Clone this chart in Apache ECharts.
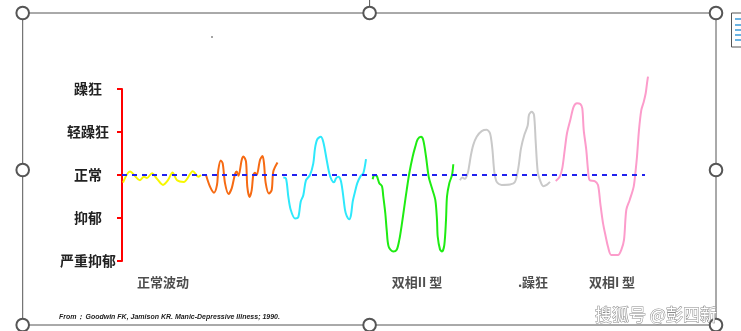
<!DOCTYPE html>
<html>
<head>
<meta charset="utf-8">
<script src="https://cdn.jsdelivr.net/npm/echarts@6/dist/echarts.min.js"></script>
<style>
html,body{margin:0;padding:0;background:#fff;}
#chart{width:741px;height:331px;}
</style>
</head>
<body>
<div id="chart"></div>
<script>
// Mood levels (y-axis tick labels), from -2 to 2
const moodLevels = ['严重抑郁', '抑郁', '正常', '轻躁狂', '躁狂'];
// Group labels under the curves: [time position, text]
const groupLabels = [[163, '正常波动'], [417, '双相II 型'], [533, '.躁狂'], [612, '双相I 型']];
const sourceNote = 'From： Goodwin FK, Jamison KR. Manic-Depressive Illness; 1990.';

// Series values: [time, mood level]
const normalWave = [[123,-0.18],[130,0.08],[140,-0.12],[144,-0.04],[147,-0.07],[152,0.04],[157,-0.09],[163,-0.23],[168,-0.12],[172.5,0.06],[177,-0.12],[184,-0.16],[192.8,0.09],[198.5,-0.04],[201,0]];
const cyclothymia = [[206,0],[210,-0.27],[214,-0.41],[217,-0.23],[218.3,0.12],[220.7,0.34],[222.7,0.27],[225,-0.19],[228.5,-0.44],[231.7,-0.31],[235,0.02],[236.7,0.08],[238.5,-0.02],[241.7,0.35],[243.5,0.43],[246,0.31],[247.3,-0.27],[249.5,-0.51],[251.7,-0.35],[253.3,0],[255,0.05],[256.7,0],[260,0.35],[262.5,0.44],[264,0.27],[265.7,-0.19],[269,-0.43],[271.7,-0.35],[273.3,0.08],[277.5,0.29]];
const bipolarIIa = [[283.3,-0.06],[286,-0.08],[288.3,-0.5],[290.7,-0.81],[295,-1.01],[298.3,-0.98],[300.7,-0.62],[303.3,-0.47],[306,-0.12],[310,0],[313.3,0.27],[315,0.62],[317.3,0.83],[320.7,0.89],[323.3,0.77],[326.7,0.35],[329.3,0.04],[331.7,-0.12],[334,-0.17],[336,-0.08],[338.3,-0.04],[340.7,-0.12],[342.7,-0.39],[345,-0.81],[346.7,-0.95],[349.3,-1.03],[351,-0.93],[352.7,-0.62],[355,-0.39],[357.3,-0.19],[360.7,-0.02],[363.3,0.04],[366,0.37]];
const bipolarIIb = [[372.7,-0.1],[374.3,0],[376.7,-0.02],[379.3,-0.19],[382,-0.26],[383.3,-0.5],[385.3,-0.89],[386.7,-1.28],[388.7,-1.67],[393.3,-1.78],[396.7,-1.74],[399.3,-1.51],[402,-1.12],[404.3,-0.74],[406.7,-0.35],[409.3,0.04],[412.7,0.43],[415.3,0.66],[417.7,0.83],[421,0.89],[423.3,0.81],[426,0.43],[428.7,-0.04],[432,-0.31],[435.3,-0.58],[437,-1.05],[437.7,-1.43],[440,-1.73],[442,-1.78],[444.3,-1.63],[446,-1.05],[447,-0.5],[449.3,-0.19],[452,0],[453.3,0.25]];
const mania = [[460,-0.12],[462.3,-0.06],[465,-0.09],[467.7,0.04],[469,0.19],[471,0.47],[473.3,0.7],[476.7,0.89],[481.7,1.02],[486.7,1.05],[490,0.97],[492.3,0.62],[494.3,0.08],[496.7,-0.16],[501.7,-0.23],[510,-0.22],[515,-0.16],[518.3,0.16],[521,0.62],[524.3,0.93],[527.7,1.15],[529,1.4],[531.7,1.47],[534,1.4],[535.7,0.77],[537.7,0.08],[540,-0.12],[543.3,-0.26],[546.7,-0.23],[550,-0.16]];
const bipolarI = [[555.7,-0.14],[559.7,-0.04],[562.3,0.16],[564.7,0.58],[567,0.97],[570.3,1.28],[573.7,1.59],[577,1.67],[580.3,1.65],[582.3,1.55],[583.7,1.05],[586.3,0.58],[588,0.12],[589.7,-0.12],[594.7,-0.14],[598,-0.23],[600.3,-0.66],[603,-1.12],[605.7,-1.43],[608,-1.67],[611.3,-1.86],[618,-1.86],[621.3,-1.74],[624,-1.51],[626.3,-0.81],[629.7,-0.58],[633.7,-0.27],[635.7,0.12],[637,0.43],[639,1.05],[641.3,1.51],[643.7,1.7],[645.7,1.9],[647,2.13],[648,2.29]];
const baseline = [[122,0],[645,0]];

const chart = echarts.init(document.getElementById('chart'), null, {renderer:'canvas'});

function curve(name, data, color){
  return {name, type:'line', data, smooth:0.3, symbol:'none', clip:false,
    lineStyle:{color, width:2}, z:3, silent:true};
}

const handles = [[22.7,13],[369.6,13],[716,13],[22.7,170],[716,170],[22.7,325],[369.6,325],[716,325]];
const graphics = [
  {type:'rect', shape:{x:22.7,y:13,width:693.3,height:312}, style:{fill:'none',stroke:'#555',lineWidth:1}, z:1},
  {type:'line', shape:{x1:369.6,y1:0,x2:369.6,y2:7}, style:{stroke:'#555',lineWidth:1}},
  {type:'circle', shape:{cx:212,cy:37,r:0.8}, style:{fill:'#333'}},
  {type:'rect', shape:{x:731.5,y:13,width:14,height:34}, style:{fill:'#fff',stroke:'#555',lineWidth:1}},
];
[19,25,30,35,40].forEach(function(y){
  graphics.push({type:'line', shape:{x1:735,y1:y,x2:741,y2:y}, style:{stroke:'#3a9ad9',lineWidth:1.5}});
});
handles.forEach(function(h){
  graphics.push({type:'circle', shape:{cx:h[0],cy:h[1],r:6.3}, style:{fill:'#fff',stroke:'#555',lineWidth:2}, z:10});
});
graphics.push({type:'text', x:59, y:317, style:{text:sourceNote, fill:'#222', font:'italic bold 7px "Liberation Sans", sans-serif', textVerticalAlign:'middle'}});
graphics.push({type:'text', x:595, y:315, style:{text:'搜狐号 @彭四新', fill:'#fff', stroke:'#8a8a8a', lineWidth:1, font:'17px "Noto Sans CJK SC", sans-serif', textVerticalAlign:'middle'}, z:12});

const option = {
  backgroundColor:'#fff',
  animation:false,
  grid:{left:122, top:89, width:528, height:172},
  xAxis:{type:'value', min:122, max:650, show:false},
  yAxis:{type:'value', min:-2, max:2, interval:1,
    axisLine:{show:true, lineStyle:{color:'#ff0000', width:2}},
    axisTick:{show:true, length:5, lineStyle:{color:'#ff0000', width:2}},
    splitLine:{show:false},
    axisLabel:{formatter:function(v){return moodLevels[Math.round(v)+2];}, align:'center', margin:34,
      color:'#222', fontSize:14, fontWeight:'bold', fontFamily:'"Noto Sans CJK SC", sans-serif'}
  },
  series:[
    curve('正常波动', normalWave, '#f7f700'),
    curve('环性', cyclothymia, '#f66a12'),
    curve('双相II 型a', bipolarIIa, '#2ee8fb'),
    curve('双相II 型b', bipolarIIb, '#1eec12'),
    curve('躁狂', mania, '#c9c9c9'),
    curve('双相I 型', bipolarI, '#fc9ccb'),
    {name:'baseline', type:'line', data:baseline, symbol:'none', silent:true, z:4,
      lineStyle:{color:'#2222ee', width:2, type:[5,5]}},
    {name:'labels', type:'scatter', symbolSize:0, silent:true, clip:false,
      data:groupLabels.map(function(g){return {value:[g[0], -2.5], name:g[1]};}),
      label:{show:true, position:'inside', formatter:'{b}', color:'#222', fontSize:13, fontWeight:'bold', fontFamily:'"Noto Sans CJK SC", sans-serif'}}
  ],
  graphic:graphics
};
chart.setOption(option);
</script>
</body>
</html>
